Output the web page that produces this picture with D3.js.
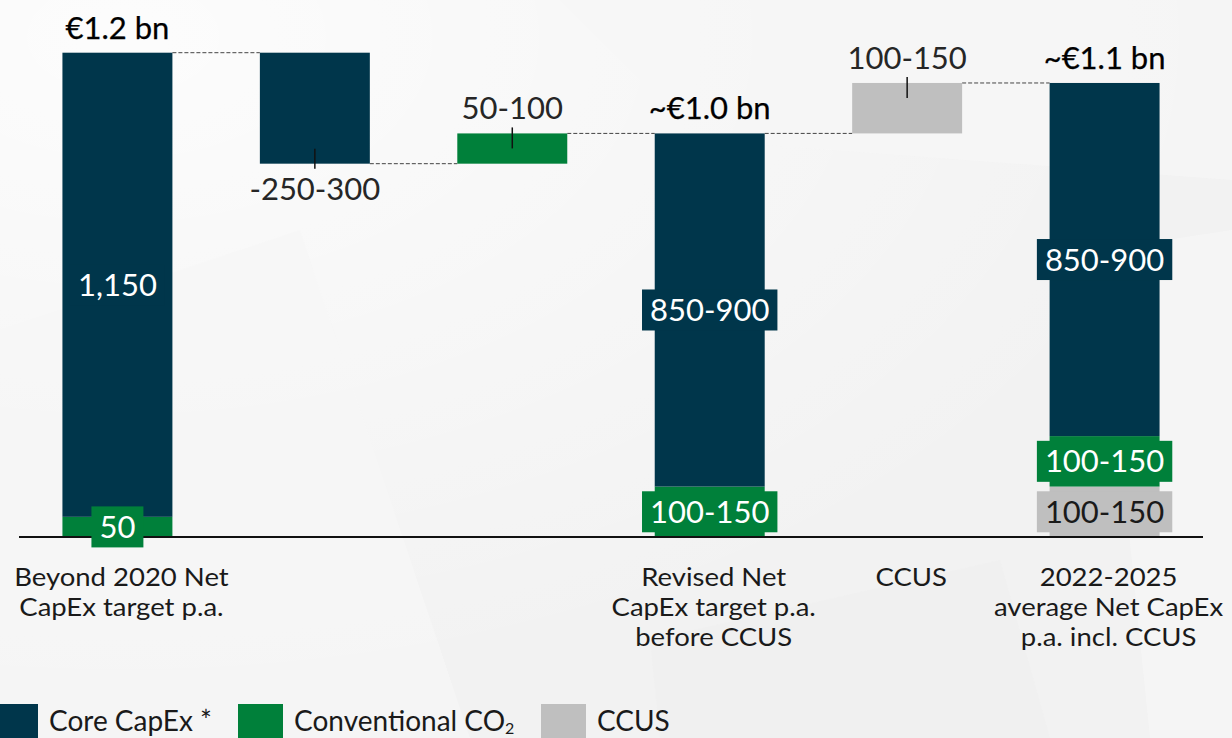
<!DOCTYPE html>
<html>
<head>
<meta charset="utf-8">
<script src="https://cdn.jsdelivr.net/npm/d3@7"></script>
<style>
  html, body { margin: 0; padding: 0; background: #f4f4f4; overflow: hidden; }
  svg { display: block; }
  text { font-family: Lato, "Open Sans", sans-serif; }
</style>
</head>
<body>
<svg id="chart" width="1232" height="738"></svg>
<script>
// ---------------- data ----------------
const categories = [
  "Beyond 2020 Net|CapEx target p.a.",
  "",
  "",
  "Revised Net|CapEx target p.a.|before CCUS",
  "CCUS",
  "2022-2025|average Net CapEx|p.a. incl. CCUS"
];
const barKinds = ["total", "delta", "delta", "total", "delta", "total"];
const coreValues = [1150, -275, 0, 875, 0, 875];
const conventionalValues = [50, 0, 75, 125, 0, 125];
const ccusValues = [0, 0, 0, 0, 125, 125];
const coreLabels = ["1,150", "-250-300", "", "850-900", "", "850-900"];
const conventionalLabels = ["50", "", "50-100", "100-150", "", "100-150"];
const ccusLabels = ["", "", "", "", "100-150", "100-150"];
const totalLabels = ["€1.2 bn", "", "", "~€1.0 bn", "", "~€1.1 bn"];
const legendLabels = ["Core CapEx *", "Conventional CO|2", "CCUS"];

// ---------------- styles ----------------
const colors = { core: "#00364b", conventional: "#00803a", ccus: "#bfbfbf" };
const labelColors = { core: "#ffffff", conventional: "#ffffff", ccus: "#1a1a1a" };

const svg = d3.select("#chart");
const W = 1232, H = 738;

// background (light architectural photo feel)
const bg = svg.append("g");
bg.append("rect").attr("width", W).attr("height", H).attr("fill", "#f2f2f2");
const grad = svg.append("defs").append("radialGradient").attr("id", "glow")
  .attr("cx", "0.1").attr("cy", "0.05").attr("r", "0.9");
grad.append("stop").attr("offset", "0").attr("stop-color", "#ffffff").attr("stop-opacity", 0.8);
grad.append("stop").attr("offset", "1").attr("stop-color", "#ffffff").attr("stop-opacity", 0);
bg.append("rect").attr("width", W).attr("height", H).attr("fill", "url(#glow)");
const shapes = [
  [[0,330],[300,230],[470,738],[0,738]],
  [[560,0],[1232,0],[1232,180],[700,140]],
  [[1100,250],[1232,230],[1232,738],[1150,738]],
  [[650,640],[1000,560],[1050,738],[660,738]]
];
const shapeFill = ["#f6f6f6", "#f6f6f6", "#f6f6f6", "#efefef"];
bg.selectAll("polygon.bgs").data(shapes).join("polygon")
  .attr("points", d => d.map(p => p.join(",")).join(" "))
  .attr("fill", (d, i) => shapeFill[i]).attr("opacity", 0.7);

// ---------------- build segments ----------------
const seriesKeys = ["ccus", "conventional", "core"];
const seriesValues = { ccus: ccusValues, conventional: conventionalValues, core: coreValues };
const seriesLabels = { ccus: ccusLabels, conventional: conventionalLabels, core: coreLabels };

const segments = [];
const bars = [];
let cum = 0;
categories.forEach((c, i) => {
  if (barKinds[i] === "total") {
    let base = 0;
    seriesKeys.forEach(k => {
      const v = seriesValues[k][i];
      if (v) { segments.push({ i, key: k, y0: base, y1: base + v, label: seriesLabels[k][i], kind: "total" }); base += v; }
    });
    cum = base;
    bars.push({ i, lo: 0, hi: base, kind: "total" });
  } else {
    seriesKeys.forEach(k => {
      const v = seriesValues[k][i];
      if (v) {
        const start = cum; cum += v;
        segments.push({ i, key: k, y0: Math.min(start, cum), y1: Math.max(start, cum), label: seriesLabels[k][i], kind: "delta", sign: Math.sign(v) });
        bars.push({ i, lo: Math.min(start, cum), hi: Math.max(start, cum), kind: "delta", sign: Math.sign(v), start, end: cum });
      }
    });
  }
});

// ---------------- scales ----------------
const x = d3.scaleBand().domain(d3.range(categories.length))
  .range([19, 1203]).paddingInner(0.443).paddingOuter(0.22);
const yMax = d3.max(bars, b => b.hi);
const y = d3.scaleLinear().domain([0, yMax]).range([537, 52.7]);

const g = svg.append("g");

// connectors (dashed)
const levels = bars.map(b => ({ i: b.i, level: b.kind === "total" ? b.hi : b.end }));
const connectors = [];
for (let k = 0; k < levels.length - 1; k++) {
  connectors.push({ from: levels[k].i, to: levels[k + 1].i, level: levels[k].level });
}
g.selectAll("line.conn").data(connectors).join("line")
  .attr("x1", d => x(d.from) + x.bandwidth())
  .attr("x2", d => x(d.to))
  .attr("y1", d => y(d.level)).attr("y2", d => y(d.level))
  .attr("stroke", "#444").attr("stroke-width", 1).attr("stroke-dasharray", "4,2");

// bars
g.selectAll("rect.seg").data(segments).join("rect")
  .attr("x", d => x(d.i)).attr("width", x.bandwidth())
  .attr("y", d => y(d.y1)).attr("height", d => y(d.y0) - y(d.y1))
  .attr("fill", d => colors[d.key]);

// baseline
g.append("line").attr("x1", 19).attr("x2", 1203).attr("y1", y(0)).attr("y2", y(0))
  .attr("stroke", "#111").attr("stroke-width", 2);

// inside labels for total bars
const inside = segments.filter(d => d.kind === "total" && d.label);
g.selectAll("g.inlab").data(inside).join("g").each(function(d) {
  const gg = d3.select(this);
  const cx = x(d.i) + x.bandwidth() / 2;
  const cy = (y(d.y0) + y(d.y1)) / 2;
  const t = gg.append("text").attr("x", cx).attr("y", cy).attr("dy", "0.36em")
    .attr("text-anchor", "middle").attr("font-size", 31)
    .attr("fill", labelColors[d.key]).text(d.label);
  const w = t.node().getComputedTextLength();
  gg.insert("rect", "text").attr("x", cx - w / 2 - 8).attr("width", w + 16)
    .attr("y", cy - 20.5).attr("height", 41).attr("fill", colors[d.key]);
});

// delta labels + tick marks
segments.filter(d => d.kind === "delta").forEach(d => {
  const cx = x(d.i) + x.bandwidth() / 2;
  if (d.sign > 0) {
    g.append("line").attr("x1", cx).attr("x2", cx)
      .attr("y1", y(d.y1) - 6).attr("y2", y(d.y1) + 15)
      .attr("stroke", "#111").attr("stroke-width", 1.5);
    g.append("text").attr("x", cx).attr("y", y(d.y1) - 14).attr("text-anchor", "middle")
      .attr("font-size", 31).attr("fill", "#262626").text(d.label);
  } else {
    g.append("line").attr("x1", cx).attr("x2", cx)
      .attr("y1", y(d.y0) - 15).attr("y2", y(d.y0) + 5)
      .attr("stroke", "#111").attr("stroke-width", 1.5);
    g.append("text").attr("x", cx).attr("y", y(d.y0) + 36).attr("text-anchor", "middle")
      .attr("font-size", 31).attr("fill", "#262626").text(d.label);
  }
});

// total labels
bars.filter(b => b.kind === "total").forEach(b => {
  g.append("text").attr("x", x(b.i) + x.bandwidth() / 2).attr("y", y(b.hi) - 14)
    .attr("text-anchor", "middle").attr("font-size", 31)
    .attr("fill", "#000").attr("stroke", "#000").attr("stroke-width", 0.25)
    .text(totalLabels[b.i]);
});

// category labels (one text per line, slightly widened to match reference)
categories.forEach((c, i) => {
  if (!c) return;
  const cx = x(i) + x.bandwidth() / 2 + 4;
  c.split("|").forEach((line, k) => {
    g.append("g").attr("transform", `translate(${cx},${586 + k * 30}) scale(1.1,1)`)
      .append("text").attr("x", 0).attr("y", 0)
      .attr("text-anchor", "middle").attr("font-size", 25).attr("fill", "#1a1a1a").text(line);
  });
});

// legend
const legendKeys = ["core", "conventional", "ccus"];
const legendX = [-7, 238, 541];
legendKeys.forEach((k, j) => {
  const lx = legendX[j];
  g.append("rect").attr("x", lx).attr("y", 704).attr("width", 45).attr("height", 45).attr("fill", colors[k]);
  const t = g.append("text").attr("x", lx + 56).attr("y", 731).attr("font-size", 28).attr("fill", "#1a1a1a");
  const parts = legendLabels[j].split("|");
  t.append("tspan").text(parts[0]);
  if (parts[1]) t.append("tspan").attr("font-size", 16).attr("dy", 3).text(parts[1]);
});
</script>
</body>
</html>
